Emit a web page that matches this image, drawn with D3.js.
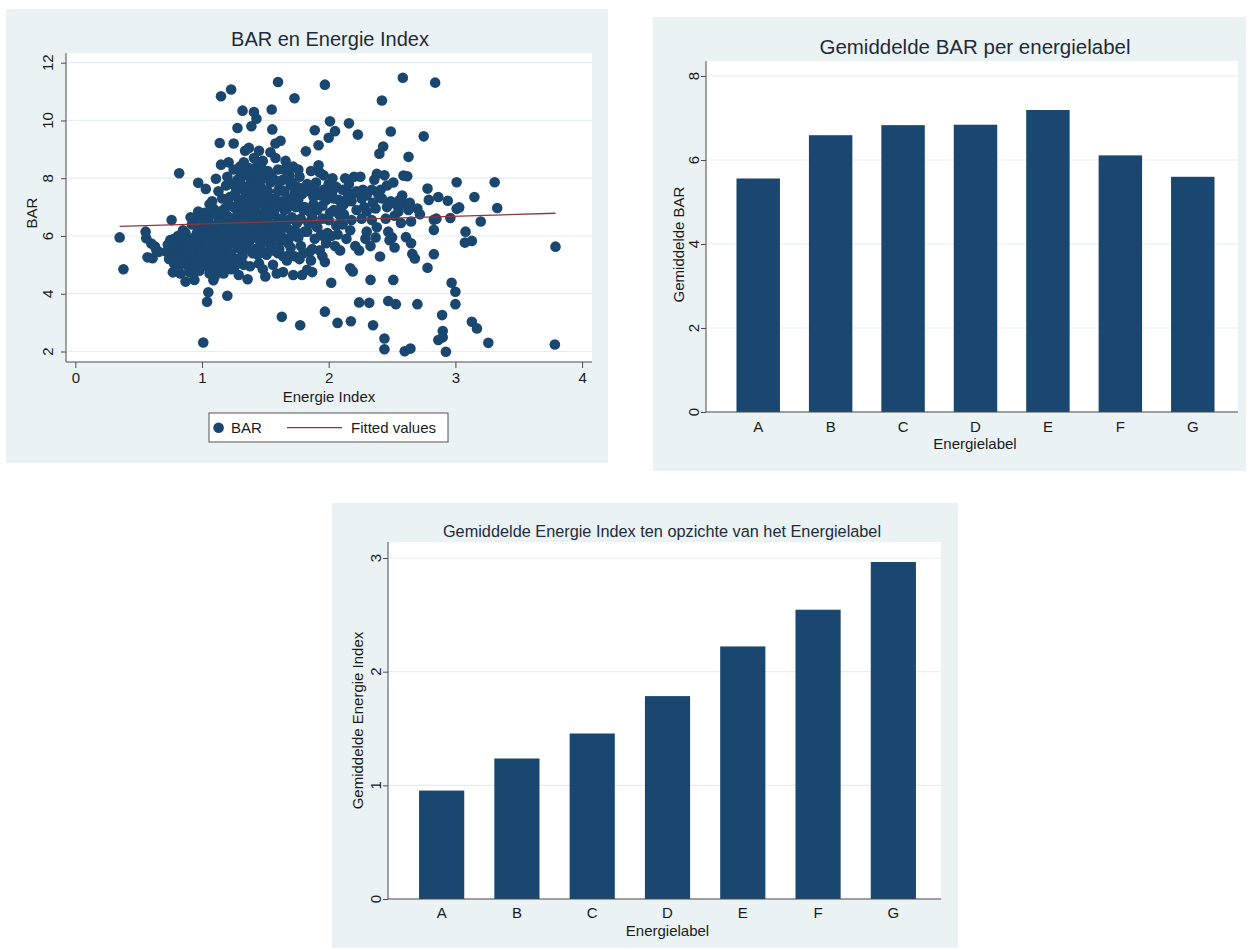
<!DOCTYPE html>
<html>
<head>
<meta charset="utf-8">
<script src="https://cdn.jsdelivr.net/npm/d3@7"></script>
<style>
  body { margin: 0; background: #ffffff; }
  text { font-family: "Liberation Sans", Arial, Helvetica, sans-serif; fill: #1b1b1b; }
</style>
</head>
<body>
<svg id="chart" width="1249" height="950"></svg>
<script>
// ---- data ----
const energyLabels = ["A", "B", "C", "D", "E", "F", "G"];
const meanBarPerLabel = [5.56, 6.59, 6.83, 6.84, 7.19, 6.11, 5.60];
const meanIndexPerLabel = [0.954, 1.236, 1.456, 1.785, 2.222, 2.545, 2.965];

const scatterXTicks = [0, 1, 2, 3, 4];
const scatterYTicks = [2, 4, 6, 8, 10, 12];
const barYTicks = [0, 2, 4, 6, 8];
const indexYTicks = [0, 1, 2, 3];

// linear fit BAR ~ Energie Index
const fitIntercept = 6.283;
const fitSlope = 0.133;

// [Energie Index, BAR] per dwelling
const dwellings = [
  [0.35,5.95],[0.38,4.85],[0.555,6.15],[0.57,5.26],[0.61,5.23],[0.56,5.92],[0.6,5.74],[0.63,5.63],[0.64,5.51],[0.66,5.45],
  [0.72,5.45],[0.74,5.2],[0.75,5.86],[0.76,6.55],[0.77,4.74],[0.76,5.6],[0.78,5.05],[0.79,5.35],[0.73,5.7],[0.78,5.9],
  [0.82,8.17],[0.81,5.5],[0.83,4.7],[0.84,5.15],[0.85,6.2],[0.86,5.75],[0.87,4.42],[0.88,5.3],[0.89,4.95],[0.82,5.0],[0.85,5.45],[0.88,5.6],[0.9,5.15],
  [0.91,5.85],[0.92,6.4],[0.93,5.0],[0.94,4.48],[0.95,5.55],[0.96,6.1],[0.97,7.84],[0.97,5.3],[0.98,4.8],[0.99,5.7],[0.95,6.6],[0.93,5.25],[0.99,6.25],[0.97,6.85],[1.0,5.05],
  [1.01,2.31],[1.02,6.45],[1.03,7.63],[1.03,5.45],[1.04,3.72],[1.05,4.05],[1.05,6.0],[1.06,5.2],[1.07,6.75],[1.08,4.85],[1.09,4.47],[1.09,5.75],[1.1,6.3],[1.01,5.9],[1.06,7.1],[1.08,7.2],[1.04,4.95],[1.02,6.8],[1.07,5.5],[1.1,4.6],[1.03,6.15],
  [1.11,7.98],[1.12,5.05],[1.13,6.6],[1.14,9.22],[1.15,10.84],[1.15,8.47],[1.16,5.9],[1.16,7.3],[1.17,4.7],[1.18,6.95],[1.19,7.75],[1.2,3.93],[1.2,5.45],[1.12,6.05],[1.14,5.6],[1.18,6.3],[1.11,6.85],[1.17,5.2],[1.19,6.55],[1.13,7.55],[1.2,8.05],[1.16,4.95],[1.2,6.05],
  [1.21,7.1],[1.22,5.75],[1.23,11.07],[1.23,4.85],[1.24,6.5],[1.25,9.2],[1.25,8.3],[1.26,7.45],[1.27,5.2],[1.28,9.74],[1.28,6.85],[1.29,4.65],[1.3,7.9],[1.21,8.55],[1.22,6.2],[1.26,5.95],[1.27,6.65],[1.29,7.25],[1.24,7.8],[1.3,5.55],[1.28,6.0],[1.23,5.4],[1.25,7.0],[1.3,8.4],[1.26,4.95],
  [1.31,6.25],[1.32,10.34],[1.33,7.6],[1.33,5.0],[1.34,8.95],[1.35,6.75],[1.36,4.5],[1.36,7.25],[1.37,9.05],[1.38,5.85],[1.39,9.8],[1.39,7.95],[1.4,5.4],[1.31,7.05],[1.32,6.55],[1.34,5.75],[1.35,8.1],[1.37,6.05],[1.38,7.45],[1.4,6.6],[1.33,8.55],[1.36,6.95],[1.38,4.95],[1.4,7.7],[1.32,5.3],[1.35,6.35],
  [1.41,10.29],[1.42,6.15],[1.43,10.06],[1.43,8.4],[1.44,7.1],[1.45,5.05],[1.45,8.95],[1.46,6.55],[1.47,7.65],[1.48,4.85],[1.48,5.8],[1.49,8.05],[1.5,4.6],[1.5,6.9],[1.41,7.35],[1.42,5.55],[1.44,6.35],[1.46,7.9],[1.47,6.0],[1.49,7.25],[1.43,6.8],[1.45,7.5],[1.5,6.3],[1.48,8.6],[1.41,8.7],
  [1.51,5.35],[1.52,7.55],[1.53,6.2],[1.54,8.9],[1.55,10.38],[1.555,9.69],[1.56,5.0],[1.57,6.75],[1.58,9.2],[1.58,7.25],[1.59,4.7],[1.6,11.33],[1.6,8.3],[1.6,6.1],[1.52,6.65],[1.53,5.75],[1.55,8.05],[1.56,7.0],[1.57,5.5],[1.59,6.45],[1.54,7.85],[1.58,8.7],[1.51,7.1],[1.6,5.4],[1.55,6.4],
  [1.61,7.65],[1.62,9.3],[1.63,3.2],[1.63,5.85],[1.64,4.75],[1.65,6.9],[1.66,8.6],[1.67,5.15],[1.68,7.3],[1.69,8.1],[1.7,6.2],[1.61,5.55],[1.62,6.55],[1.64,7.95],[1.66,6.3],[1.68,5.75],[1.65,8.3],[1.7,7.75],[1.67,6.95],[1.63,7.2],[1.69,5.35],
  [1.71,6.65],[1.72,4.65],[1.73,10.77],[1.73,5.3],[1.74,7.0],[1.75,7.7],[1.76,5.95],[1.775,2.91],[1.78,6.6],[1.79,4.65],[1.79,7.45],[1.8,5.4],[1.72,8.4],[1.74,6.15],[1.77,8.05],[1.76,7.25],[1.78,5.65],[1.71,7.85],[1.8,6.9],
  [1.82,8.93],[1.83,4.83],[1.83,6.15],[1.84,7.55],[1.85,5.45],[1.86,8.25],[1.87,6.65],[1.87,4.75],[1.88,7.1],[1.89,9.66],[1.89,5.9],[1.9,7.85],[1.81,7.0],[1.84,6.45],[1.86,5.15],[1.88,7.35],[1.9,6.35],
  [1.92,9.14],[1.92,8.45],[1.93,5.5],[1.94,7.4],[1.95,6.6],[1.96,8.1],[1.97,11.24],[1.97,3.38],[1.97,5.1],[1.98,7.25],[1.98,5.75],[1.99,6.1],[2.0,9.4],[2.0,7.8],[1.91,6.9],[1.95,5.3],[1.94,6.05],[2.0,6.55],[1.96,7.6],
  [2.01,9.97],[2.02,4.38],[2.02,6.0],[2.03,7.55],[2.04,6.9],[2.05,9.63],[2.05,5.65],[2.06,7.7],[2.07,2.99],[2.07,6.05],[2.08,7.25],[2.09,5.5],[2.1,7.0],[2.1,6.6],[2.03,8.0],[2.06,6.35],
  [2.11,7.6],[2.12,6.75],[2.13,8.0],[2.14,5.9],[2.15,7.35],[2.16,9.9],[2.16,7.8],[2.17,4.88],[2.175,3.05],[2.18,6.55],[2.19,4.77],[2.19,7.45],[2.2,8.05],[2.12,7.1],[2.17,6.2],
  [2.21,5.65],[2.22,7.55],[2.23,9.51],[2.24,3.7],[2.24,5.5],[2.25,8.05],[2.26,6.6],[2.27,7.6],[2.28,7.0],[2.29,5.9],[2.3,7.4],[2.3,6.15],[2.32,3.69],[2.33,4.48],[2.33,5.65],[2.34,6.55],[2.35,2.91],[2.35,7.15],[2.36,7.95],[2.37,5.95],[2.38,8.15],[2.38,6.3],[2.39,7.45],
  [2.4,8.85],[2.405,5.29],[2.41,7.6],[2.42,10.69],[2.43,9.1],[2.44,2.45],[2.44,2.08],[2.44,8.1],[2.45,6.6],[2.46,7.75],[2.47,3.75],[2.47,6.15],[2.48,5.85],[2.49,9.62],[2.49,7.2],[2.5,5.95],[2.51,4.48],[2.51,7.85],[2.52,5.6],[2.53,3.64],[2.53,7.1],
  [2.55,6.85],[2.57,6.45],[2.58,7.4],[2.585,11.48],[2.59,8.09],[2.6,2.01],[2.6,7.1],[2.61,5.96],[2.62,8.07],[2.63,8.74],[2.63,6.9],[2.645,2.1],[2.65,5.75],[2.65,6.5],[2.66,5.38],[2.68,5.22],[2.7,3.64],[2.7,6.95],[2.72,6.75],[2.64,7.15],[2.56,7.25],
  [2.75,9.45],[2.78,4.9],[2.78,7.64],[2.79,7.25],[2.83,6.56],[2.83,6.21],[2.83,5.37],[2.84,11.31],[2.85,6.6],[2.865,7.35],[2.865,2.4],[2.895,3.26],[2.9,2.71],[2.9,2.49],[2.925,1.99],[2.94,7.22],[2.96,6.62],[2.97,4.38],
  [3.0,4.07],[3.0,3.64],[3.01,7.86],[3.01,6.94],[3.03,6.99],[3.075,5.77],[3.08,6.15],[3.13,5.83],[3.13,3.03],[3.15,7.35],[3.17,2.8],[3.2,6.5],[3.26,2.3],[3.31,7.86],[3.33,6.97],[3.785,2.24],[3.79,5.63],
  // dense core
  [0.77,5.25],[0.8,5.75],[0.81,6.0],[0.84,5.9],[0.86,5.05],[0.87,6.1],[0.89,5.45],[0.9,4.75],[0.91,6.65],[0.92,5.6],[0.94,5.95],[0.96,5.15],[0.98,6.45],[0.99,4.95],[1.0,6.7],[1.0,5.45],[1.02,5.2],[1.04,5.7],[1.05,6.5],[1.06,4.7],[1.07,6.2],[1.08,5.35],[1.09,6.95],[1.1,5.1],[1.11,5.55],[1.12,6.4],[1.13,4.85],[1.14,6.85],[1.15,5.3],[1.17,6.15],[1.18,5.65],[1.19,5.0],[1.2,6.7],[0.95,5.85],[0.93,4.7],[0.88,5.85],[1.04,6.3],[1.1,5.9],
  [1.21,6.45],[1.22,7.35],[1.23,6.0],[1.24,5.15],[1.25,6.3],[1.27,7.6],[1.27,5.7],[1.29,6.45],[1.3,7.1],[1.31,5.85],[1.31,8.15],[1.33,6.9],[1.34,6.15],[1.34,7.35],[1.36,5.55],[1.37,7.75],[1.37,8.35],[1.39,6.35],[1.39,7.1],[1.41,6.0],[1.42,7.85],[1.42,6.75],[1.44,5.35],[1.44,8.15],[1.45,6.2],[1.46,7.15],[1.47,5.5],[1.47,8.35],[1.49,6.65],[1.5,7.55],[1.51,6.0],[1.52,8.25],[1.53,6.95],[1.54,5.5],[1.55,7.3],[1.56,6.15],[1.57,7.95],[1.58,5.85],[1.59,7.05],[1.6,7.55],[1.61,6.3],[1.62,7.9],[1.63,6.6],[1.64,5.3],[1.65,7.55],[1.66,5.9],[1.67,8.0],[1.68,6.55],[1.69,7.05],[1.7,5.6],[1.71,7.2],[1.72,6.0],[1.73,7.45],[1.75,6.45],[1.76,8.3],[1.77,5.2],[1.78,7.65],[1.46,5.8],[1.43,7.6],[1.4,8.25],[1.36,6.6],[1.28,7.95],[1.52,5.95],[1.57,6.9],[1.62,6.05],
  [1.81,6.15],[1.83,7.8],[1.85,6.85],[1.87,5.55],[1.89,7.6],[1.91,6.3],[1.93,8.2],[1.95,7.05],[1.97,5.95],[1.99,7.45],[2.01,6.8],[2.04,7.3],[2.08,6.75],[2.11,6.4],[2.14,7.6],[2.18,7.2],[2.22,6.9],[2.26,7.3],[2.3,6.85],[2.34,7.6],[2.37,6.95],[2.42,7.3],[2.46,7.0],[2.52,6.7]
];

// ---- drawing ----
const NAVY = "#1a476f";
const MAROON = "#90353b";
const PANEL_BG = "#eaf2f3";
const GRID = "#e4edef";
const AXIS = "#4a4a4a";

const svg = d3.select("#chart");

function panel(x0, y0, x1, y1) {
  svg.append("rect").attr("x", x0).attr("y", y0)
    .attr("width", x1 - x0).attr("height", y1 - y0).attr("fill", PANEL_BG);
}

function plotArea(l, t, r, b) {
  svg.append("rect").attr("x", l).attr("y", t)
    .attr("width", r - l).attr("height", b - t).attr("fill", "#ffffff");
}

function gridAndYAxis(y, ticks, l, r, b, t, labelCx, fontSize) {
  const g = svg.append("g");
  g.selectAll("line.grid").data(ticks).join("line")
    .attr("x1", l + 1).attr("x2", r).attr("y1", d => y(d)).attr("y2", d => y(d))
    .attr("stroke", GRID).attr("stroke-width", 1.2);
  const ax = svg.append("g").attr("transform", `translate(${l},0)`)
    .call(d3.axisLeft(y).tickValues(ticks).tickSize(5).tickFormat(""));
  ax.select(".domain").remove();
  ax.selectAll(".tick line").attr("stroke", AXIS);
  svg.append("line").attr("x1", l).attr("x2", l).attr("y1", t).attr("y2", b)
    .attr("stroke", AXIS).attr("stroke-width", 1);
  // rotated tick labels
  svg.append("g").selectAll("text").data(ticks).join("text")
    .attr("transform", d => `translate(${labelCx + fontSize * 0.36},${y(d)}) rotate(-90)`)
    .attr("text-anchor", "middle").attr("font-size", fontSize)
    .text(d => d);
}

function xAxisLine(l, r, b) {
  svg.append("line").attr("x1", l).attr("x2", r).attr("y1", b).attr("y2", b)
    .attr("stroke", AXIS).attr("stroke-width", 1);
}

function text(x, y, s, size, opts = {}) {
  const t = svg.append("text").attr("x", x).attr("y", y)
    .attr("text-anchor", opts.anchor || "middle").attr("font-size", size).text(s);
  if (opts.rotate) t.attr("transform", `rotate(-90,${x},${y})`);
  if (opts.fill) t.style("fill", opts.fill);
  return t;
}

// ===== Scatter: BAR en Energie Index =====
(function () {
  const L = 66, T = 53, R = 592, B = 362;
  panel(6, 9, 608, 463);
  plotArea(L, T, R, B);
  const x = d3.scaleLinear().domain([0, 4]).range([75.3, 582.1]);
  const y = d3.scaleLinear().domain([2, 12]).range([351.5, 62.7]);

  gridAndYAxis(y, scatterYTicks, L, R, B, T, 47.5, 15);

  const xa = svg.append("g").attr("transform", `translate(0,${B})`)
    .call(d3.axisBottom(x).tickValues(scatterXTicks).tickFormat(d3.format("d"))
      .tickSize(6).tickPadding(4));
  xa.select(".domain").remove();
  xa.selectAll(".tick line").attr("stroke", AXIS);
  xa.selectAll(".tick text").attr("font-size", 15).style("fill", "#1b1b1b")
    .attr("font-family", "Liberation Sans, Arial, sans-serif");
  xAxisLine(L, R, B);

  svg.append("g").selectAll("circle").data(dwellings).join("circle")
    .attr("cx", d => x(d[0])).attr("cy", d => y(d[1])).attr("r", 5.3)
    .attr("fill", NAVY);

  const xs = d3.extent(dwellings, d => d[0]);
  const fit = xs.map(v => [v, fitIntercept + fitSlope * v]);
  svg.append("path")
    .attr("d", d3.line().x(d => x(d[0])).y(d => y(d[1]))(fit))
    .attr("stroke", MAROON).attr("stroke-width", 1.3).attr("fill", "none");

  text(330, 46, "BAR en Energie Index", 20, { fill: "#1e2b3a" });
  text(329, 402, "Energie Index", 15);
  text(37, 213, "BAR", 15, { rotate: true });

  // legend
  svg.append("rect").attr("x", 209).attr("y", 413).attr("width", 239).attr("height", 29)
    .attr("fill", "#ffffff").attr("stroke", "#555").attr("stroke-width", 1);
  svg.append("circle").attr("cx", 218.6).attr("cy", 427.7).attr("r", 5.3).attr("fill", NAVY);
  text(231, 433, "BAR", 15, { anchor: "start" });
  svg.append("line").attr("x1", 287).attr("x2", 342).attr("y1", 427.7).attr("y2", 427.7)
    .attr("stroke", MAROON).attr("stroke-width", 1.3);
  text(351, 433, "Fitted values", 15, { anchor: "start" });
})();

// ===== Bar chart generator =====
function barChart(cfg, values, ticks) {
  const { L, T, R, B } = cfg.plot;
  panel(...cfg.panel);
  plotArea(L, T, R, B);
  const x = d3.scaleBand().domain(energyLabels).range(cfg.band)
    .paddingInner(0.4).paddingOuter(0.2);
  const y = d3.scaleLinear().domain([0, ticks[ticks.length - 1]]).range([B, cfg.yTop]);

  gridAndYAxis(y, ticks, L, R, B, T, cfg.tickLabelCx, 15);

  svg.append("g").selectAll("rect").data(values).join("rect")
    .attr("x", (d, i) => x(energyLabels[i]))
    .attr("width", x.bandwidth())
    .attr("y", d => y(d)).attr("height", d => B - y(d))
    .attr("fill", NAVY);

  xAxisLine(L, R, B);
  svg.append("g").selectAll("text").data(energyLabels).join("text")
    .attr("x", d => x(d) + x.bandwidth() / 2).attr("y", cfg.tickLabelY)
    .attr("text-anchor", "middle").attr("font-size", 15).text(d => d);

  text(cfg.titleX, cfg.titleY, cfg.title, cfg.titleSize, { fill: "#1e2b3a" });
  text((L + R) / 2 + cfg.xTitleShift, cfg.xTitleY, "Energielabel", 15);
  text(cfg.yTitleX, (T + B) / 2 + cfg.yTitleShift, cfg.yTitle, 15, { rotate: true });
}

barChart({
  panel: [653, 17, 1246, 471],
  plot: { L: 706, T: 61, R: 1238, B: 412 },
  yTop: 76,
  band: [722, 1229],
  tickLabelCx: 694,
  tickLabelY: 432,
  title: "Gemiddelde BAR per energielabel",
  titleX: 975, titleY: 54, titleSize: 20.5,
  xTitleY: 449, xTitleShift: 3,
  yTitleX: 684, yTitleShift: 8,
  yTitle: "Gemiddelde BAR"
}, meanBarPerLabel, barYTicks);

barChart({
  panel: [332, 503, 958, 948],
  plot: { L: 388, T: 542, R: 941, B: 899 },
  yTop: 558,
  band: [404, 931],
  tickLabelCx: 376,
  tickLabelY: 918,
  title: "Gemiddelde Energie Index ten opzichte van het Energielabel",
  titleX: 662, titleY: 537, titleSize: 16.3,
  xTitleY: 936, xTitleShift: 3,
  yTitleX: 363, yTitleShift: 0,
  yTitle: "Gemiddelde Energie Index"
}, meanIndexPerLabel, indexYTicks);
</script>
</body>
</html>
